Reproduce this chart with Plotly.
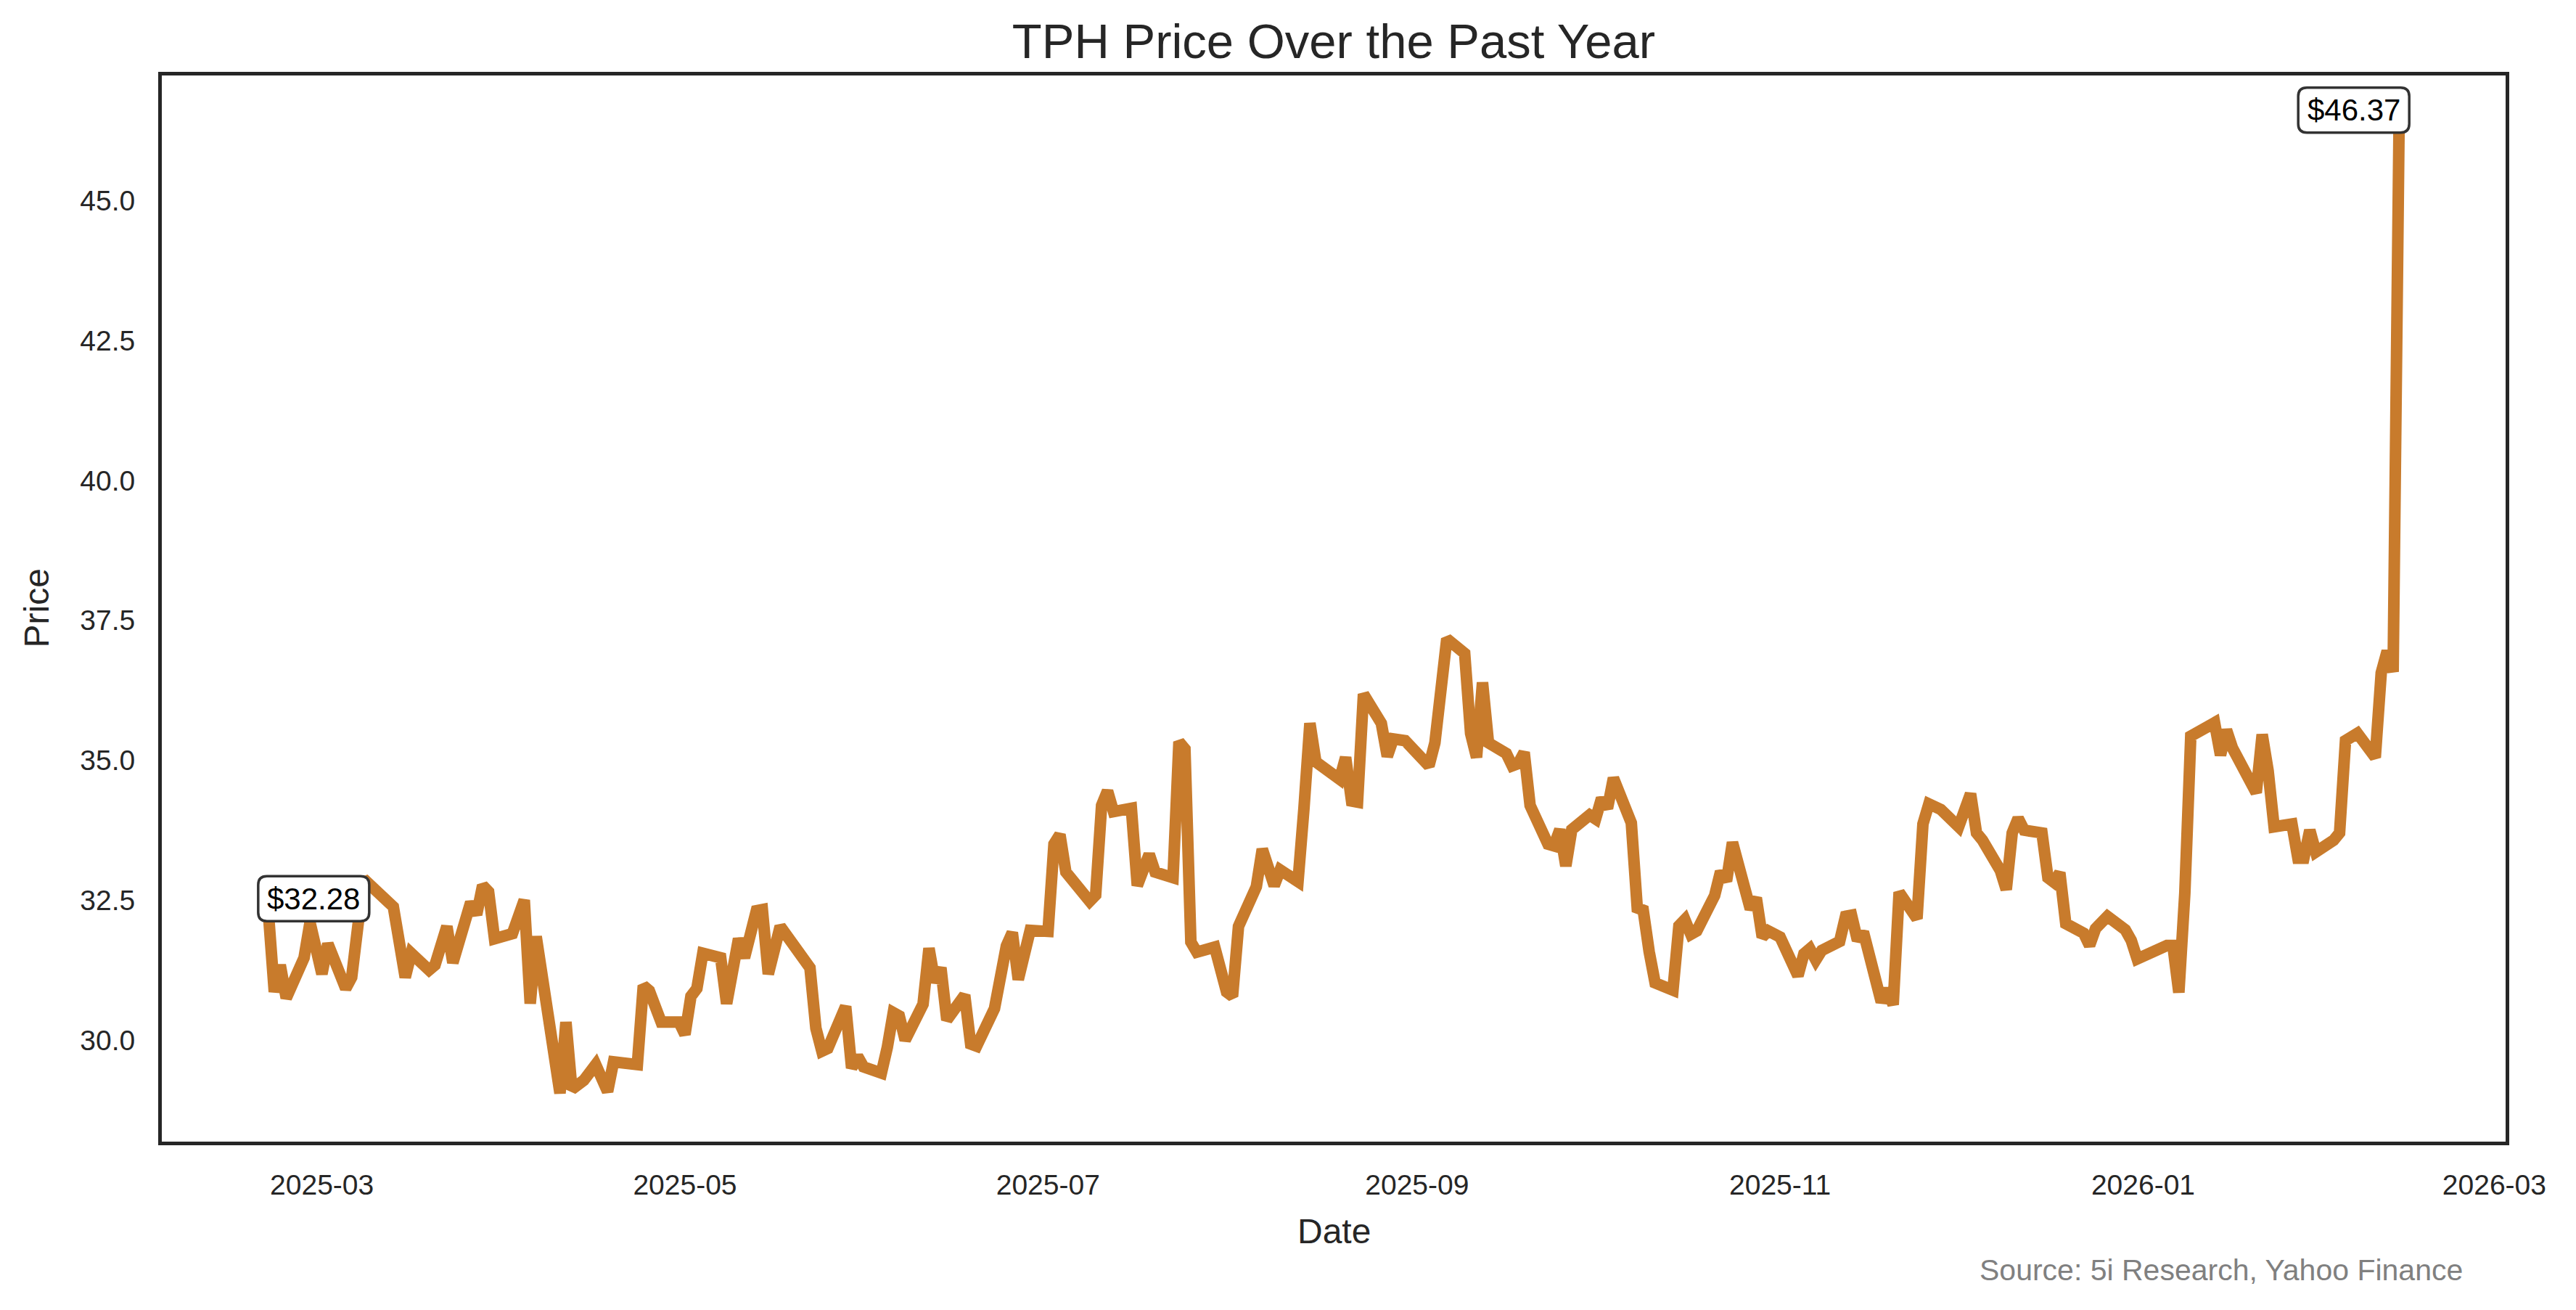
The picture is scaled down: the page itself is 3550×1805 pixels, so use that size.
import pandas as pd
import plotly.graph_objects as go

# ---- data ----
dates = [
    "2025-02-20", "2025-02-21", "2025-02-22", "2025-02-23", "2025-02-26", "2025-02-27",
    "2025-03-01", "2025-03-02", "2025-03-05", "2025-03-06", "2025-03-08", "2025-03-12",
    "2025-03-13", "2025-03-15", "2025-03-16", "2025-03-19", "2025-03-20", "2025-03-22",
    "2025-03-23", "2025-03-26", "2025-03-27", "2025-03-28", "2025-03-29", "2025-03-30",
    "2025-04-02", "2025-04-04", "2025-04-05", "2025-04-06", "2025-04-08", "2025-04-10",
    "2025-04-11", "2025-04-12", "2025-04-14", "2025-04-16", "2025-04-18", "2025-04-19",
    "2025-04-23", "2025-04-24", "2025-04-25", "2025-04-27", "2025-04-30", "2025-05-01",
    "2025-05-02", "2025-05-03", "2025-05-04", "2025-05-07", "2025-05-08", "2025-05-09",
    "2025-05-10", "2025-05-11", "2025-05-13", "2025-05-14", "2025-05-15", "2025-05-17",
    "2025-05-20", "2025-05-22", "2025-05-23", "2025-05-24", "2025-05-25", "2025-05-28",
    "2025-05-29", "2025-05-30", "2025-05-31", "2025-06-03", "2025-06-04", "2025-06-05",
    "2025-06-06", "2025-06-07", "2025-06-10", "2025-06-11", "2025-06-12", "2025-06-13",
    "2025-06-14", "2025-06-17", "2025-06-18", "2025-06-19", "2025-06-22", "2025-06-24",
    "2025-06-25", "2025-06-26", "2025-06-28", "2025-07-01", "2025-07-02", "2025-07-03",
    "2025-07-04", "2025-07-08", "2025-07-09", "2025-07-10", "2025-07-11", "2025-07-12",
    "2025-07-15", "2025-07-16", "2025-07-18", "2025-07-19", "2025-07-22", "2025-07-23",
    "2025-07-24", "2025-07-25", "2025-07-26", "2025-07-29", "2025-07-31", "2025-08-01",
    "2025-08-02", "2025-08-05", "2025-08-06", "2025-08-08", "2025-08-09", "2025-08-12",
    "2025-08-13", "2025-08-14", "2025-08-15", "2025-08-19", "2025-08-20", "2025-08-21",
    "2025-08-22", "2025-08-23", "2025-08-26", "2025-08-27", "2025-08-28", "2025-08-30",
    "2025-09-03", "2025-09-04", "2025-09-06", "2025-09-09", "2025-09-10", "2025-09-11",
    "2025-09-12", "2025-09-13", "2025-09-16", "2025-09-17", "2025-09-18", "2025-09-19",
    "2025-09-20", "2025-09-23", "2025-09-24", "2025-09-25", "2025-09-26", "2025-09-27",
    "2025-09-30", "2025-10-01", "2025-10-02", "2025-10-03", "2025-10-04", "2025-10-07",
    "2025-10-08", "2025-10-09", "2025-10-10", "2025-10-11", "2025-10-14", "2025-10-15",
    "2025-10-16", "2025-10-17", "2025-10-18", "2025-10-21", "2025-10-22", "2025-10-23",
    "2025-10-24", "2025-10-25", "2025-10-27", "2025-10-28", "2025-10-29", "2025-10-30",
    "2025-11-01", "2025-11-04", "2025-11-05", "2025-11-06", "2025-11-07", "2025-11-08",
    "2025-11-11", "2025-11-12", "2025-11-13", "2025-11-14", "2025-11-15", "2025-11-18",
    "2025-11-19", "2025-11-20", "2025-11-21", "2025-11-24", "2025-11-25", "2025-11-26",
    "2025-11-28", "2025-12-01", "2025-12-02", "2025-12-03", "2025-12-04", "2025-12-05",
    "2025-12-08", "2025-12-09", "2025-12-10", "2025-12-11", "2025-12-12", "2025-12-15",
    "2025-12-16", "2025-12-17", "2025-12-18", "2025-12-19", "2025-12-22", "2025-12-23",
    "2025-12-24", "2025-12-26", "2025-12-29", "2025-12-30", "2025-12-31", "2026-01-02",
    "2026-01-05", "2026-01-06", "2026-01-07", "2026-01-08", "2026-01-09", "2026-01-12",
    "2026-01-13", "2026-01-14", "2026-01-15", "2026-01-16", "2026-01-20", "2026-01-21",
    "2026-01-22", "2026-01-23", "2026-01-26", "2026-01-27", "2026-01-28", "2026-01-29",
    "2026-01-30", "2026-02-02", "2026-02-03", "2026-02-04", "2026-02-05", "2026-02-06",
    "2026-02-09", "2026-02-10", "2026-02-11", "2026-02-12", "2026-02-13",
]
prices = [
    32.28, 30.86, 31.34, 30.75, 31.47, 32.10,
    31.18, 31.72, 30.92, 31.12, 32.88, 32.42,
    32.38, 31.12, 31.55, 31.25, 31.34, 32.03,
    31.38, 32.46, 32.24, 32.76, 32.65, 31.81,
    31.90, 32.50, 30.65, 31.85, 30.26, 29.05,
    30.32, 29.12, 29.28, 29.56, 29.08, 29.61,
    29.56, 30.97, 30.88, 30.32, 30.32, 30.10,
    30.78, 30.92, 31.55, 31.47, 30.65, 31.38,
    31.81, 31.47, 32.31, 32.33, 31.18, 32.03,
    31.55, 31.29, 30.21, 29.80, 29.85, 30.60,
    29.50, 29.71, 29.52, 29.41, 29.87, 30.49,
    30.43, 30.00, 30.64, 31.64, 31.03, 31.29,
    30.36, 30.80, 29.93, 29.89, 30.56, 31.68,
    31.92, 31.08, 31.96, 31.94, 33.50, 33.67,
    33.00, 32.48, 32.59, 34.19, 34.45, 34.08,
    34.14, 32.76, 33.32, 33.00, 32.90, 35.33,
    35.20, 31.75, 31.57, 31.66, 30.86, 30.78,
    32.03, 32.74, 33.41, 32.76, 33.04, 32.83,
    34.14, 35.66, 34.97, 34.66, 35.05, 34.27,
    34.25, 36.18, 35.66, 35.07, 35.38, 35.35,
    34.90, 35.31, 37.17, 36.91, 35.48, 35.05,
    36.39, 35.31, 35.12, 34.90, 34.94, 35.14,
    34.19, 33.50, 33.47, 33.76, 33.11, 33.76,
    34.02, 33.95, 34.32, 34.14, 34.68, 33.88,
    32.36, 32.32, 31.58, 31.02, 30.89, 32.04,
    32.15, 31.89, 31.95, 32.58, 33.01, 32.84,
    33.53, 33.14, 32.34, 32.54, 31.84, 31.95,
    31.84, 31.15, 31.54, 31.63, 31.43, 31.60,
    31.76, 32.21, 32.23, 31.78, 31.93, 30.68,
    30.91, 30.63, 32.64, 32.17, 33.86, 34.22,
    34.12, 33.81, 34.05, 34.40, 33.70, 33.57,
    33.03, 32.69, 33.70, 33.96, 33.75, 33.70,
    32.90, 32.82, 32.99, 32.08, 31.91, 31.69,
    31.99, 32.21, 31.97, 31.78, 31.45, 31.56,
    31.69, 31.69, 30.85, 32.62, 35.43, 35.61,
    35.67, 35.09, 35.54, 35.22, 34.42, 35.46,
    34.81, 33.81, 33.86, 33.25, 33.25, 33.75,
    33.36, 33.57, 33.70, 35.35, 35.41, 35.48,
    35.05, 36.56, 36.95, 36.58, 46.37,
]
y_ticks = [30.0, 32.5, 35.0, 37.5, 40.0, 42.5, 45.0]
title_text = "TPH Price Over the Past Year"
x_title = "Date"
y_title = "Price"
source_text = "Source: 5i Research, Yahoo Finance"

LINE_COLOR = "rgb(200,123,44)"
INK = "#262626"
FONT = "Liberation Sans, Arial, Helvetica, sans-serif"

s = pd.Series(prices, index=pd.to_datetime(dates))

# matplotlib-like 5% margins on both axes
span = s.index[-1] - s.index[0]
x_range = [s.index[0] - 0.05 * span, s.index[-1] + 0.05 * span]
y_span = s.max() - s.min()
y_range = [s.min() - 0.05 * y_span, s.max() + 0.05 * y_span]

fig = go.Figure()
fig.add_trace(go.Scatter(
    x=s.index, y=s.values, mode="lines",
    line=dict(color=LINE_COLOR, width=16),
    hoverinfo="skip", showlegend=False,
))

W, H = 3550, 1805
L, R, T, B = 223, 97, 104, 232

fig.update_layout(
    width=W, height=H,
    margin=dict(l=L, r=R, t=T, b=B, autoexpand=False),
    paper_bgcolor="white", plot_bgcolor="white",
    font=dict(family=FONT, color=INK, size=39),
    title=dict(text=title_text, x=0.5 * (L + W - R) / W, xanchor="center",
               y=1 - 57 / H, yanchor="middle", yref="container",
               font=dict(size=67, color=INK, family=FONT)),
    showlegend=False,
)
fig.update_xaxes(
    range=x_range, showgrid=False, zeroline=False,
    showline=True, linewidth=5, linecolor=INK, mirror=True,
    ticks="", tickformat="%Y-%m", dtick="M2", tick0="2025-03-01",
    tickfont=dict(size=39, color=INK, family=FONT),
    ticklabelstandoff=21,
)
fig.update_yaxes(
    range=y_range, showgrid=False, zeroline=False,
    showline=True, linewidth=5, linecolor=INK, mirror=True,
    ticks="", tickvals=y_ticks, ticktext=[f"{v:.1f}" for v in y_ticks],
    tickfont=dict(size=39, color=INK, family=FONT),
    ticklabelstandoff=24,
)

# axis titles and source note
fig.add_annotation(text=x_title, xref="paper", yref="paper", x=0.5, y=0,
                   xanchor="center", yanchor="middle", yshift=-123,
                   showarrow=False, font=dict(size=48, color=INK, family=FONT))
fig.add_annotation(text=y_title, xref="paper", yref="paper", x=0, y=0.5,
                   xanchor="center", yanchor="middle", xshift=-(L - 50),
                   textangle=-90, showarrow=False,
                   font=dict(size=48, color=INK, family=FONT))
fig.add_annotation(text=source_text, xref="paper", yref="paper",
                   x=(3396 - L) / (W - L - R), y=0, xanchor="right", yanchor="middle",
                   yshift=-177, showarrow=False,
                   font=dict(size=41, color="#808080", family=FONT))


def rounded_box(x0, x1, y0, y1, r):
    return (f"M {x0 + r},{y0} L {x1 - r},{y0} Q {x1},{y0} {x1},{y0 + r} "
            f"L {x1},{y1 - r} Q {x1},{y1} {x1 - r},{y1} "
            f"L {x0 + r},{y1} Q {x0},{y1} {x0},{y1 - r} "
            f"L {x0},{y0 + r} Q {x0},{y0} {x0 + r},{y0} Z")


# first / last price labels (rounded boxes like matplotlib bbox)
for i, side in ((0, 1), (-1, -1)):
    xa, ya = s.index[i], s.values[i]
    bx0, bx1 = (-14, 139) if side > 0 else (-139, 14)
    fig.add_shape(
        type="path", xref="x", yref="y", xsizemode="pixel", ysizemode="pixel",
        xanchor=xa, yanchor=ya, path=rounded_box(bx0, bx1, -12, 50, 12),
        fillcolor="white", line=dict(color="#333333", width=3.5), layer="above",
    )
    fig.add_annotation(
        x=xa, y=ya, text=f"${ya:.2f}", showarrow=False,
        xanchor="center", yanchor="middle",
        xshift=(bx0 + bx1) / 2, yshift=19,
        font=dict(size=42, color="black", family=FONT),
    )

fig.write_html("out.html", config={"displayModeBar": False},
               post_script="document.body.style.margin='0';")
